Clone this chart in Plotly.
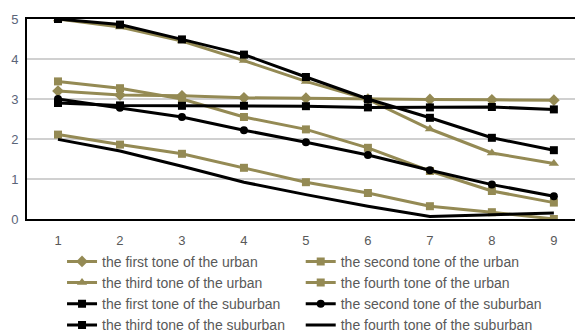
import plotly.graph_objects as go

x = [1, 2, 3, 4, 5, 6, 7, 8, 9]
x_labels = ["1", "2", "3", "4", "5", "6", "7", "8", "9"]

urban_tone1 = [3.20, 3.10, 3.08, 3.03, 3.02, 3.00, 2.99, 2.98, 2.97]
urban_tone2 = [3.44, 3.27, 3.00, 2.55, 2.24, 1.78, 1.20, 0.70, 0.41]
urban_tone3 = [5.00, 4.80, 4.45, 3.96, 3.44, 2.99, 2.25, 1.65, 1.39]
urban_tone4 = [2.11, 1.86, 1.63, 1.28, 0.92, 0.65, 0.32, 0.17, 0.00]
suburban_tone1 = [5.00, 4.86, 4.49, 4.11, 3.55, 3.00, 2.53, 2.03, 1.72]
suburban_tone2 = [3.00, 2.78, 2.55, 2.22, 1.92, 1.60, 1.22, 0.86, 0.57]
suburban_tone3 = [2.90, 2.84, 2.83, 2.83, 2.82, 2.79, 2.79, 2.80, 2.74]
suburban_tone4 = [1.99, 1.70, 1.32, 0.92, 0.61, 0.32, 0.06, 0.10, 0.15]

GOLD = "#948A54"
BLACK = "#000000"

# (name, values, colour, marker, size, legend column)
series = [
    ("the first tone of the urban", urban_tone1, GOLD, "diamond", 9, "legend"),
    ("the second tone of the urban", urban_tone2, GOLD, "square", 8, "legend2"),
    ("the third tone of the urban", urban_tone3, GOLD, "triangle-up", 9, "legend"),
    ("the fourth tone of the urban", urban_tone4, GOLD, "square", 8, "legend2"),
    ("the first tone of the suburban", suburban_tone1, BLACK, "square", 8, "legend"),
    ("the second tone of the suburban", suburban_tone2, BLACK, "circle", 8, "legend2"),
    ("the third tone of the suburban", suburban_tone3, BLACK, "square", 8, "legend"),
    ("the fourth tone of the suburban", suburban_tone4, BLACK, None, 0, "legend2"),
]

fig = go.Figure()
for name, vals, col, sym, sz, lg in series:
    if sym is None:
        fig.add_trace(go.Scatter(x=x, y=vals, name=name, mode="lines", legend=lg,
                                 line=dict(color=col, width=3)))
    else:
        fig.add_trace(go.Scatter(x=x, y=vals, name=name, mode="lines+markers", legend=lg,
                                 line=dict(color=col, width=3),
                                 marker=dict(symbol=sym, size=sz, color=col)))

legend_common = dict(orientation="v", xanchor="left", yanchor="top", y=-0.134,
                     tracegroupgap=0, font=dict(size=14, color="#595959"),
                     bgcolor="rgba(0,0,0,0)", itemwidth=30, borderwidth=0)

fig.update_layout(
    width=575, height=324,
    margin=dict(l=19, r=0, t=11, b=112.5, autoexpand=False),
    paper_bgcolor="white", plot_bgcolor="white",
    font=dict(family="Liberation Sans, Arial, sans-serif", size=13, color="#595959"),
    xaxis=dict(range=[0.5, 9.47], tickmode="array", tickvals=x, ticktext=x_labels,
               showgrid=False, showline=True, linecolor="black", linewidth=2,
               mirror=True, ticks="", zeroline=False, automargin=False,
               ticklabelstandoff=8,
               tickfont=dict(size=13, color="#595959")),
    yaxis=dict(range=[0, 5], dtick=1, showgrid=True, gridcolor="#D0D0D0", gridwidth=1.5,
               showline=True, linecolor="black", linewidth=2, mirror=True,
               zeroline=False, ticks="", automargin=False, ticklabelstandoff=4,
               tickfont=dict(size=13, color="#5A6478")),
    legend=dict(x=0.063, **legend_common),
    legend2=dict(x=0.4923, **legend_common),
    showlegend=True,
)

fig.write_html("out.html")
